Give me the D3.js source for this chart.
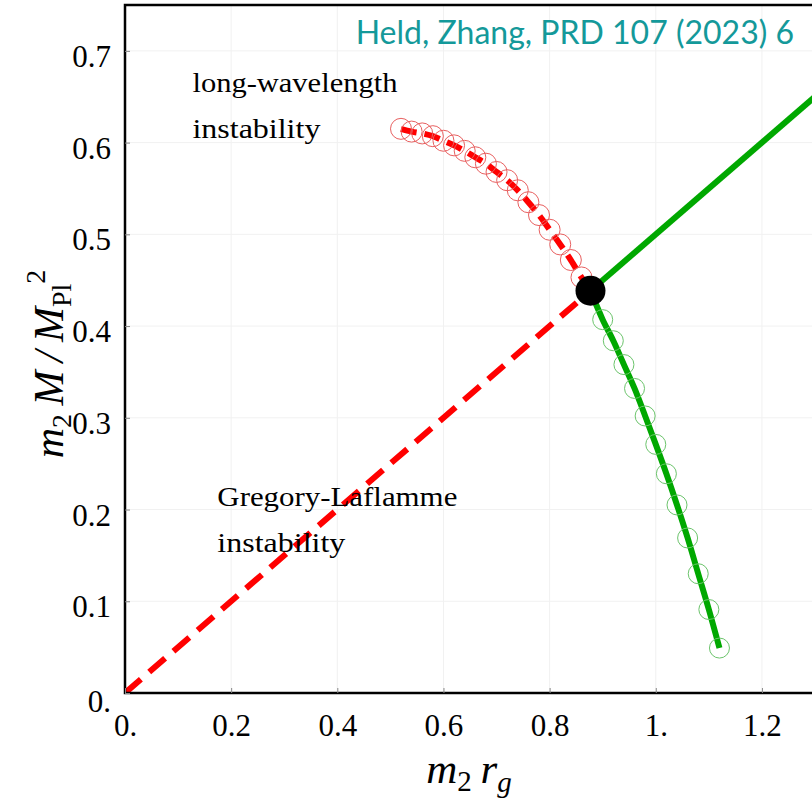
<!DOCTYPE html>
<html>
<head>
<meta charset="utf-8">
<script src="https://cdn.jsdelivr.net/npm/d3@7"></script>
<style>
  html, body { margin: 0; padding: 0; background: #fff; }
  svg { display: block; }
</style>
</head>
<body>
<svg id="chart" width="812" height="811"></svg>
<script>
// ---- data ----
const xTicks = [0, 0.2, 0.4, 0.6, 0.8, 1.0, 1.2];
const xTickLabels = ["0.", "0.2", "0.4", "0.6", "0.8", "1.", "1.2"];
const yTicks = [0, 0.1, 0.2, 0.3, 0.4, 0.5, 0.6, 0.7];
const yTickLabels = ["0.", "0.1", "0.2", "0.3", "0.4", "0.5", "0.6", "0.7"];

const criticalPoint = [0.877, 0.4385];

// Gregory-Laflamme boundary (straight line), unstable part (red) and stable part (green)
const glUnstable = [[0, 0], [0.877, 0.4385]];
const glStable = [[0.877, 0.4385], [1.36, 0.68]];

// long-wavelength instability branch (red dashed with open circles)
const lwX = [0.52, 0.54, 0.56, 0.58, 0.60, 0.62, 0.64, 0.66, 0.68, 0.70, 0.72, 0.74, 0.76, 0.78, 0.80, 0.82, 0.84, 0.86];
const lwY = [0.615, 0.612, 0.610, 0.607, 0.602, 0.597, 0.591, 0.584, 0.577, 0.568, 0.559, 0.548, 0.535, 0.521, 0.505, 0.489, 0.472, 0.453];

// stable branch (green with open circles)
const stX = [0.90, 0.92, 0.94, 0.96, 0.98, 1.00, 1.02, 1.04, 1.06, 1.08, 1.10, 1.12];
const stY = [0.407, 0.384, 0.358, 0.332, 0.302, 0.271, 0.239, 0.205, 0.169, 0.130, 0.091, 0.049];

const annotations = [
  { lines: ["long-wavelength", "instability"], widths: [205, 128], x: 0.127, y: 0.655 },
  { lines: ["Gregory-Laflamme", "instability"], widths: [240, 128], x: 0.174, y: 0.204 }
];
const credit = "Held, Zhang, PRD 107 (2023) 6";

// ---- layout ----
const svg = d3.select("#chart");
const mL = 125, mR = 815, mT = 5, mB = 693;
const x = d3.scaleLinear().domain([0, 1.3]).range([mL, mR]);
const y = d3.scaleLinear().domain([0, 0.75]).range([mB, mT]);

const serif = "'Liberation Serif', 'DejaVu Serif', serif";

svg.append("defs").append("clipPath").attr("id", "clip")
  .append("rect").attr("x", mL).attr("y", mT).attr("width", mR - mL).attr("height", mB - mT);

// gridlines
const grid = svg.append("g");
grid.selectAll("line.gx").data(xTicks.slice(1)).join("line")
  .attr("x1", d => x(d)).attr("x2", d => x(d)).attr("y1", mT).attr("y2", mB)
  .attr("stroke", "#f1f1f1").attr("stroke-width", 1);
grid.selectAll("line.gy").data(yTicks.slice(1)).join("line")
  .attr("y1", d => y(d)).attr("y2", d => y(d)).attr("x1", mL).attr("x2", mR)
  .attr("stroke", "#f1f1f1").attr("stroke-width", 1);

const plot = svg.append("g").attr("clip-path", "url(#clip)");
const line = d3.line().x(d => x(d[0])).y(d => y(d[1]));
const curve = d3.line().x(d => x(d[0])).y(d => y(d[1])).curve(d3.curveCatmullRom);

// red straight dashed
plot.append("path").datum(glUnstable).attr("d", line)
  .attr("fill", "none").attr("stroke", "#ff0000").attr("stroke-width", 6)
  .attr("stroke-dasharray", "21,11");

// red long-wavelength curve
const lwPts = lwX.map((v, i) => [v, lwY[i]]).concat([criticalPoint]);
plot.append("path").datum(lwPts).attr("d", curve)
  .attr("fill", "none").attr("stroke", "#ff0000").attr("stroke-width", 6)
  .attr("stroke-dasharray", "16,8");
plot.selectAll("circle.lw").data(lwX.map((v, i) => [v, lwY[i]])).join("circle")
  .attr("cx", d => x(d[0])).attr("cy", d => y(d[1])).attr("r", 10.5)
  .attr("fill", "none").attr("stroke", "#e86060").attr("stroke-width", 1);

// green stable curve
const stPts = [criticalPoint].concat(stX.map((v, i) => [v, stY[i]]));
plot.append("path").datum(stPts).attr("d", curve)
  .attr("fill", "none").attr("stroke", "#00a800").attr("stroke-width", 6);
plot.selectAll("circle.st").data(stX.map((v, i) => [v, stY[i]])).join("circle")
  .attr("cx", d => x(d[0])).attr("cy", d => y(d[1])).attr("r", 10)
  .attr("fill", "none").attr("stroke", "#6cc46c").attr("stroke-width", 1);

// green straight line
plot.append("path").datum(glStable).attr("d", line)
  .attr("fill", "none").attr("stroke", "#00a800").attr("stroke-width", 6);

// critical point
plot.append("circle").attr("cx", x(criticalPoint[0])).attr("cy", y(criticalPoint[1]))
  .attr("r", 15).attr("fill", "#000");

// frame
svg.append("rect").attr("x", mL).attr("y", mT).attr("width", mR - mL).attr("height", mB - mT)
  .attr("fill", "none").attr("stroke", "#000").attr("stroke-width", 2.5);

// axes ticks & labels
const xAxis = d3.axisBottom(x).tickValues(xTicks).tickSize(-5).tickPadding(12)
  .tickFormat((d, i) => xTickLabels[i]);
const gx = svg.append("g").attr("transform", `translate(0,${mB})`).call(xAxis);
gx.select(".domain").remove();
gx.selectAll("line").attr("stroke", "#888");
gx.selectAll("text").attr("font-family", serif).attr("font-size", 31).attr("fill", "#000")
  .attr("dy", "0").attr("y", 43);

const yAxis = d3.axisLeft(y).tickValues(yTicks).tickSize(-5).tickPadding(14)
  .tickFormat((d, i) => yTickLabels[i]);
const gy = svg.append("g").attr("transform", `translate(${mL},0)`).call(yAxis);
gy.select(".domain").remove();
gy.selectAll("line").attr("stroke", "#888");
gy.selectAll("text").attr("font-family", serif).attr("font-size", 31).attr("fill", "#000")
  .attr("dy", "0.5em");
gy.selectAll(".tick").filter(d => d === 0).select("text").attr("dy", "0.6em");

// annotations
annotations.forEach(a => {
  a.lines.forEach((ln, i) => {
    svg.append("text").attr("font-family", serif).attr("font-size", 28).attr("fill", "#000")
      .attr("x", x(a.x)).attr("y", y(a.y) + i * 46)
      .attr("textLength", a.widths[i]).attr("lengthAdjust", "spacingAndGlyphs")
      .text(ln);
  });
});

// credit
svg.append("text").attr("x", 794).attr("y", 44).attr("text-anchor", "end")
  .attr("font-family", "Lato, 'Open Sans', sans-serif").attr("font-size", 32)
  .attr("fill", "#14999a").text(credit);

// x axis title: m2 rg
const xt = svg.append("text").attr("x", 469).attr("y", 783).attr("text-anchor", "middle")
  .attr("font-family", serif).attr("font-size", 43).attr("font-style", "italic");
xt.append("tspan").text("m");
xt.append("tspan").attr("font-size", 29).attr("font-style", "normal").attr("dy", 8).text("2");
xt.append("tspan").attr("dy", -8).text("\u2009r");
xt.append("tspan").attr("font-size", 29).attr("dy", 9).text("g");

// y axis title: m2 M / M_Pl^2
const yt = svg.append("text").attr("transform", `translate(63,364) rotate(-90)`).attr("text-anchor", "middle")
  .attr("font-family", serif).attr("font-size", 42).attr("font-style", "italic");
yt.append("tspan").text("m");
yt.append("tspan").attr("font-size", 28).attr("font-style", "normal").attr("dy", 8).text("2");
yt.append("tspan").attr("dy", -8).text("\u2009M\u2009/\u2009M");
yt.append("tspan").attr("font-size", 28).attr("font-style", "normal").attr("dy", 8).text("Pl");
yt.append("tspan").attr("font-size", 28).attr("font-style", "normal").attr("dy", -26).text("2");
</script>
</body>
</html>
